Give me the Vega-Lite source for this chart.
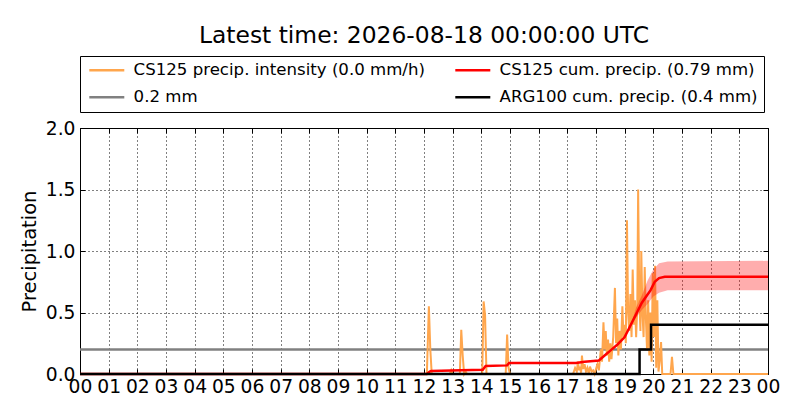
{
  "$schema": "https://vega.github.io/schema/vega-lite/v6.json",
  "width": 688,
  "height": 246,
  "autosize": {"type": "none"},
  "padding": {"left": 80, "top": 128, "right": 32, "bottom": 46},
  "background": "white",
  "title": {
    "text": "Latest time: 2026-08-18 00:00:00 UTC",
    "fontSize": 23.4,
    "font": "DejaVu Sans",
    "fontWeight": "normal",
    "color": "black",
    "offset": 7
  },
  "config": {
    "font": "DejaVu Sans",
    "view": {"stroke": "black", "strokeWidth": 1},
    "axis": {
      "labelFont": "DejaVu Sans",
      "labelFontSize": 18.7,
      "labelColor": "black",
      "tickColor": "black",
      "domainColor": "black",
      "gridColor": "black",
      "gridDash": [1, 3],
      "gridOpacity": 1,
      "gridWidth": 1,
      "titleFont": "DejaVu Sans",
      "titleFontSize": 19.5,
      "titleFontWeight": "normal",
      "titleColor": "black"
    },
    "legend": {
      "labelFont": "DejaVu Sans",
      "labelFontSize": 16.6,
      "labelColor": "black",
      "labelLimit": 400
    }
  },
  "datasets": {
    "lines": [
      {"t": 0, "v": 0.2, "s": "0.2 mm"},
      {"t": 24, "v": 0.2, "s": "0.2 mm"},

      {"t": 0, "v": 0, "s": "CS125 precip. intensity (0.0 mm/h)"},
      {"t": 12.1, "v": 0, "s": "CS125 precip. intensity (0.0 mm/h)"},
      {"t": 12.17, "v": 0.55, "s": "CS125 precip. intensity (0.0 mm/h)"},
      {"t": 12.22, "v": 0.2, "s": "CS125 precip. intensity (0.0 mm/h)"},
      {"t": 12.27, "v": 0, "s": "CS125 precip. intensity (0.0 mm/h)"},
      {"t": 12.9, "v": 0, "s": "CS125 precip. intensity (0.0 mm/h)"},
      {"t": 12.95, "v": 0.03, "s": "CS125 precip. intensity (0.0 mm/h)"},
      {"t": 13.0, "v": 0, "s": "CS125 precip. intensity (0.0 mm/h)"},
      {"t": 13.25, "v": 0, "s": "CS125 precip. intensity (0.0 mm/h)"},
      {"t": 13.3, "v": 0.36, "s": "CS125 precip. intensity (0.0 mm/h)"},
      {"t": 13.35, "v": 0.15, "s": "CS125 precip. intensity (0.0 mm/h)"},
      {"t": 13.4, "v": 0, "s": "CS125 precip. intensity (0.0 mm/h)"},
      {"t": 13.45, "v": 0.02, "s": "CS125 precip. intensity (0.0 mm/h)"},
      {"t": 13.5, "v": 0, "s": "CS125 precip. intensity (0.0 mm/h)"},
      {"t": 14.03, "v": 0, "s": "CS125 precip. intensity (0.0 mm/h)"},
      {"t": 14.08, "v": 0.59, "s": "CS125 precip. intensity (0.0 mm/h)"},
      {"t": 14.13, "v": 0.48, "s": "CS125 precip. intensity (0.0 mm/h)"},
      {"t": 14.18, "v": 0, "s": "CS125 precip. intensity (0.0 mm/h)"},
      {"t": 14.85, "v": 0, "s": "CS125 precip. intensity (0.0 mm/h)"},
      {"t": 14.9, "v": 0.32, "s": "CS125 precip. intensity (0.0 mm/h)"},
      {"t": 14.95, "v": 0.05, "s": "CS125 precip. intensity (0.0 mm/h)"},
      {"t": 15.0, "v": 0, "s": "CS125 precip. intensity (0.0 mm/h)"},
      {"t": 17.2, "v": 0, "s": "CS125 precip. intensity (0.0 mm/h)"},
      {"t": 17.27, "v": 0.05, "s": "CS125 precip. intensity (0.0 mm/h)"},
      {"t": 17.33, "v": 0.02, "s": "CS125 precip. intensity (0.0 mm/h)"},
      {"t": 17.37, "v": 0.1, "s": "CS125 precip. intensity (0.0 mm/h)"},
      {"t": 17.41, "v": 0.03, "s": "CS125 precip. intensity (0.0 mm/h)"},
      {"t": 17.44, "v": 0.06, "s": "CS125 precip. intensity (0.0 mm/h)"},
      {"t": 17.48, "v": 0.01, "s": "CS125 precip. intensity (0.0 mm/h)"},
      {"t": 17.51, "v": 0.15, "s": "CS125 precip. intensity (0.0 mm/h)"},
      {"t": 17.55, "v": 0.04, "s": "CS125 precip. intensity (0.0 mm/h)"},
      {"t": 17.6, "v": 0.08, "s": "CS125 precip. intensity (0.0 mm/h)"},
      {"t": 17.65, "v": 0.02, "s": "CS125 precip. intensity (0.0 mm/h)"},
      {"t": 17.7, "v": 0.05, "s": "CS125 precip. intensity (0.0 mm/h)"},
      {"t": 17.75, "v": 0.0, "s": "CS125 precip. intensity (0.0 mm/h)"},
      {"t": 17.79, "v": 0.06, "s": "CS125 precip. intensity (0.0 mm/h)"},
      {"t": 17.85, "v": 0.02, "s": "CS125 precip. intensity (0.0 mm/h)"},
      {"t": 17.9, "v": 0.03, "s": "CS125 precip. intensity (0.0 mm/h)"},
      {"t": 17.95, "v": 0.0, "s": "CS125 precip. intensity (0.0 mm/h)"},
      {"t": 18.0, "v": 0.04, "s": "CS125 precip. intensity (0.0 mm/h)"},
      {"t": 18.05, "v": 0.08, "s": "CS125 precip. intensity (0.0 mm/h)"},
      {"t": 18.1, "v": 0.03, "s": "CS125 precip. intensity (0.0 mm/h)"},
      {"t": 18.17, "v": 0.2, "s": "CS125 precip. intensity (0.0 mm/h)"},
      {"t": 18.21, "v": 0.1, "s": "CS125 precip. intensity (0.0 mm/h)"},
      {"t": 18.26, "v": 0.42, "s": "CS125 precip. intensity (0.0 mm/h)"},
      {"t": 18.3, "v": 0.2, "s": "CS125 precip. intensity (0.0 mm/h)"},
      {"t": 18.34, "v": 0.35, "s": "CS125 precip. intensity (0.0 mm/h)"},
      {"t": 18.38, "v": 0.15, "s": "CS125 precip. intensity (0.0 mm/h)"},
      {"t": 18.42, "v": 0.28, "s": "CS125 precip. intensity (0.0 mm/h)"},
      {"t": 18.46, "v": 0.1, "s": "CS125 precip. intensity (0.0 mm/h)"},
      {"t": 18.5, "v": 0.25, "s": "CS125 precip. intensity (0.0 mm/h)"},
      {"t": 18.54, "v": 0.12, "s": "CS125 precip. intensity (0.0 mm/h)"},
      {"t": 18.6, "v": 0.3, "s": "CS125 precip. intensity (0.0 mm/h)"},
      {"t": 18.66, "v": 0.7, "s": "CS125 precip. intensity (0.0 mm/h)"},
      {"t": 18.7, "v": 0.25, "s": "CS125 precip. intensity (0.0 mm/h)"},
      {"t": 18.74, "v": 0.45, "s": "CS125 precip. intensity (0.0 mm/h)"},
      {"t": 18.78, "v": 0.15, "s": "CS125 precip. intensity (0.0 mm/h)"},
      {"t": 18.82, "v": 0.35, "s": "CS125 precip. intensity (0.0 mm/h)"},
      {"t": 18.87, "v": 0.2, "s": "CS125 precip. intensity (0.0 mm/h)"},
      {"t": 18.92, "v": 0.55, "s": "CS125 precip. intensity (0.0 mm/h)"},
      {"t": 18.96, "v": 0.3, "s": "CS125 precip. intensity (0.0 mm/h)"},
      {"t": 19.0, "v": 0.4, "s": "CS125 precip. intensity (0.0 mm/h)"},
      {"t": 19.04, "v": 0.25, "s": "CS125 precip. intensity (0.0 mm/h)"},
      {"t": 19.08, "v": 1.25, "s": "CS125 precip. intensity (0.0 mm/h)"},
      {"t": 19.12, "v": 0.5, "s": "CS125 precip. intensity (0.0 mm/h)"},
      {"t": 19.16, "v": 0.35, "s": "CS125 precip. intensity (0.0 mm/h)"},
      {"t": 19.2, "v": 0.65, "s": "CS125 precip. intensity (0.0 mm/h)"},
      {"t": 19.24, "v": 0.3, "s": "CS125 precip. intensity (0.0 mm/h)"},
      {"t": 19.28, "v": 0.85, "s": "CS125 precip. intensity (0.0 mm/h)"},
      {"t": 19.32, "v": 0.4, "s": "CS125 precip. intensity (0.0 mm/h)"},
      {"t": 19.36, "v": 0.6, "s": "CS125 precip. intensity (0.0 mm/h)"},
      {"t": 19.4, "v": 0.3, "s": "CS125 precip. intensity (0.0 mm/h)"},
      {"t": 19.44, "v": 0.55, "s": "CS125 precip. intensity (0.0 mm/h)"},
      {"t": 19.47, "v": 1.5, "s": "CS125 precip. intensity (0.0 mm/h)"},
      {"t": 19.51, "v": 0.6, "s": "CS125 precip. intensity (0.0 mm/h)"},
      {"t": 19.55, "v": 0.35, "s": "CS125 precip. intensity (0.0 mm/h)"},
      {"t": 19.58, "v": 1.0, "s": "CS125 precip. intensity (0.0 mm/h)"},
      {"t": 19.62, "v": 0.5, "s": "CS125 precip. intensity (0.0 mm/h)"},
      {"t": 19.66, "v": 0.3, "s": "CS125 precip. intensity (0.0 mm/h)"},
      {"t": 19.7, "v": 0.87, "s": "CS125 precip. intensity (0.0 mm/h)"},
      {"t": 19.74, "v": 0.45, "s": "CS125 precip. intensity (0.0 mm/h)"},
      {"t": 19.78, "v": 0.2, "s": "CS125 precip. intensity (0.0 mm/h)"},
      {"t": 19.82, "v": 0.6, "s": "CS125 precip. intensity (0.0 mm/h)"},
      {"t": 19.86, "v": 0.15, "s": "CS125 precip. intensity (0.0 mm/h)"},
      {"t": 19.9, "v": 0.5, "s": "CS125 precip. intensity (0.0 mm/h)"},
      {"t": 19.94, "v": 0.1, "s": "CS125 precip. intensity (0.0 mm/h)"},
      {"t": 19.98, "v": 0.82, "s": "CS125 precip. intensity (0.0 mm/h)"},
      {"t": 20.02, "v": 0.3, "s": "CS125 precip. intensity (0.0 mm/h)"},
      {"t": 20.06, "v": 0.88, "s": "CS125 precip. intensity (0.0 mm/h)"},
      {"t": 20.1, "v": 0.05, "s": "CS125 precip. intensity (0.0 mm/h)"},
      {"t": 20.14, "v": 0.6, "s": "CS125 precip. intensity (0.0 mm/h)"},
      {"t": 20.18, "v": 0.02, "s": "CS125 precip. intensity (0.0 mm/h)"},
      {"t": 20.22, "v": 0.1, "s": "CS125 precip. intensity (0.0 mm/h)"},
      {"t": 20.27, "v": 0.26, "s": "CS125 precip. intensity (0.0 mm/h)"},
      {"t": 20.31, "v": 0.0, "s": "CS125 precip. intensity (0.0 mm/h)"},
      {"t": 20.6, "v": 0.0, "s": "CS125 precip. intensity (0.0 mm/h)"},
      {"t": 20.65, "v": 0.14, "s": "CS125 precip. intensity (0.0 mm/h)"},
      {"t": 20.7, "v": 0.0, "s": "CS125 precip. intensity (0.0 mm/h)"},
      {"t": 24, "v": 0.0, "s": "CS125 precip. intensity (0.0 mm/h)"},

      {"t": 0, "v": 0, "s": "CS125 cum. precip. (0.79 mm)"},
      {"t": 12.1, "v": 0, "s": "CS125 cum. precip. (0.79 mm)"},
      {"t": 12.2, "v": 0.02, "s": "CS125 cum. precip. (0.79 mm)"},
      {"t": 12.25, "v": 0.025, "s": "CS125 cum. precip. (0.79 mm)"},
      {"t": 13.3, "v": 0.03, "s": "CS125 cum. precip. (0.79 mm)"},
      {"t": 14.05, "v": 0.035, "s": "CS125 cum. precip. (0.79 mm)"},
      {"t": 14.15, "v": 0.065, "s": "CS125 cum. precip. (0.79 mm)"},
      {"t": 14.9, "v": 0.07, "s": "CS125 cum. precip. (0.79 mm)"},
      {"t": 14.97, "v": 0.09, "s": "CS125 cum. precip. (0.79 mm)"},
      {"t": 17.3, "v": 0.09, "s": "CS125 cum. precip. (0.79 mm)"},
      {"t": 17.6, "v": 0.1, "s": "CS125 cum. precip. (0.79 mm)"},
      {"t": 18.1, "v": 0.11, "s": "CS125 cum. precip. (0.79 mm)"},
      {"t": 18.3, "v": 0.15, "s": "CS125 cum. precip. (0.79 mm)"},
      {"t": 18.5, "v": 0.19, "s": "CS125 cum. precip. (0.79 mm)"},
      {"t": 18.75, "v": 0.24, "s": "CS125 cum. precip. (0.79 mm)"},
      {"t": 19.0, "v": 0.3, "s": "CS125 cum. precip. (0.79 mm)"},
      {"t": 19.15, "v": 0.37, "s": "CS125 cum. precip. (0.79 mm)"},
      {"t": 19.3, "v": 0.44, "s": "CS125 cum. precip. (0.79 mm)"},
      {"t": 19.45, "v": 0.51, "s": "CS125 cum. precip. (0.79 mm)"},
      {"t": 19.6, "v": 0.58, "s": "CS125 cum. precip. (0.79 mm)"},
      {"t": 19.75, "v": 0.63, "s": "CS125 cum. precip. (0.79 mm)"},
      {"t": 19.9, "v": 0.68, "s": "CS125 cum. precip. (0.79 mm)"},
      {"t": 20.05, "v": 0.75, "s": "CS125 cum. precip. (0.79 mm)"},
      {"t": 20.2, "v": 0.78, "s": "CS125 cum. precip. (0.79 mm)"},
      {"t": 20.4, "v": 0.79, "s": "CS125 cum. precip. (0.79 mm)"},
      {"t": 24, "v": 0.79, "s": "CS125 cum. precip. (0.79 mm)"},

      {"t": 0, "v": 0, "s": "ARG100 cum. precip. (0.4 mm)"},
      {"t": 19.52, "v": 0.2, "s": "ARG100 cum. precip. (0.4 mm)"},
      {"t": 19.92, "v": 0.4, "s": "ARG100 cum. precip. (0.4 mm)"},
      {"t": 24, "v": 0.4, "s": "ARG100 cum. precip. (0.4 mm)"}
    ],
    "band": [
      {"t": 19.25, "lo": 0.42, "hi": 0.42},
      {"t": 19.4, "lo": 0.46, "hi": 0.54},
      {"t": 19.6, "lo": 0.52, "hi": 0.64},
      {"t": 19.8, "lo": 0.57, "hi": 0.76},
      {"t": 20.0, "lo": 0.63, "hi": 0.85},
      {"t": 20.2, "lo": 0.66, "hi": 0.9},
      {"t": 20.5, "lo": 0.68, "hi": 0.915},
      {"t": 24, "lo": 0.68, "hi": 0.92}
    ]
  },
  "data": {"name": "lines"},
  "resolve": {"axis": {"x": "independent", "y": "independent"}},
  "layer": [
    {
      "transform": [{"filter": "datum.s == '0.2 mm'"}],
      "mark": {"type": "line", "strokeWidth": 2.5},
      "encoding": {
        "x": {
          "field": "t", "type": "quantitative",
          "scale": {"domain": [0, 24], "nice": false, "zero": false},
          "axis": {
            "title": null,
            "values": [0, 1, 2, 3, 4, 5, 6, 7, 8, 9, 10, 11, 12, 13, 14, 15, 16, 17, 18, 19, 20, 21, 22, 23, 24],
            "labelExpr": "datum.value == 24 ? '00' : (datum.value < 10 ? '0' + datum.value : '' + datum.value)",
            "tickSize": -5,
            "labelPadding": 8,
            "labelFlush": false,
            "labelOverlap": false,
            "grid": true
          }
        },
        "y": {
          "field": "v", "type": "quantitative",
          "scale": {"domain": [0, 2], "nice": false},
          "axis": {
            "title": "Precipitation",
            "values": [0, 0.5, 1, 1.5, 2],
            "format": ".1f",
            "tickSize": -5,
            "labelPadding": 10,
            "titlePadding": 6,
            "labelFlush": false,
            "labelOverlap": false,
            "grid": true
          }
        },
        "color": {
          "field": "s", "type": "nominal",
          "scale": {
            "domain": ["CS125 precip. intensity (0.0 mm/h)", "0.2 mm", "CS125 cum. precip. (0.79 mm)", "ARG100 cum. precip. (0.4 mm)"],
            "range": ["#ffa64d", "#808080", "#ff0000", "#000000"]
          },
          "legend": {
            "title": null,
            "orient": "none",
            "legendX": 0,
            "legendY": -72,
            "columns": 2,
            "columnPadding": 25,
            "rowPadding": 10,
            "padding": 6,
            "symbolType": "M-1,0H6",
            "symbolSize": 100,
            "symbolStrokeWidth": 2.5,
            "labelOffset": 31,
            "strokeColor": "black",
            "fillColor": "white"
          }
        }
      }
    },
    {
      "transform": [{"filter": "datum.s == 'CS125 precip. intensity (0.0 mm/h)'"}],
      "mark": {"type": "line", "strokeWidth": 2},
      "encoding": {
        "x": {
          "field": "t", "type": "quantitative",
          "axis": {"orient": "top", "labels": false, "title": null, "tickSize": -5, "grid": false, "domain": false,
                   "values": [0, 1, 2, 3, 4, 5, 6, 7, 8, 9, 10, 11, 12, 13, 14, 15, 16, 17, 18, 19, 20, 21, 22, 23, 24]}
        },
        "y": {
          "field": "v", "type": "quantitative",
          "axis": {"orient": "right", "labels": false, "title": null, "tickSize": -5, "grid": false, "domain": false,
                   "values": [0, 0.5, 1, 1.5, 2]}
        },
        "color": {"field": "s", "type": "nominal"}
      }
    },
    {
      "data": {"name": "band"},
      "mark": {"type": "area", "color": "#ff0000", "opacity": 0.32},
      "encoding": {
        "x": {"field": "t", "type": "quantitative", "axis": null},
        "y": {"field": "lo", "type": "quantitative", "axis": null},
        "y2": {"field": "hi"}
      }
    },
    {
      "transform": [{"filter": "datum.s == 'CS125 cum. precip. (0.79 mm)'"}],
      "mark": {"type": "line", "strokeWidth": 2.5},
      "encoding": {
        "x": {"field": "t", "type": "quantitative", "axis": null},
        "y": {"field": "v", "type": "quantitative", "axis": null},
        "color": {"field": "s", "type": "nominal"}
      }
    },
    {
      "transform": [{"filter": "datum.s == 'ARG100 cum. precip. (0.4 mm)'"}],
      "mark": {"type": "line", "strokeWidth": 2.5, "interpolate": "step-after"},
      "encoding": {
        "x": {"field": "t", "type": "quantitative", "axis": null},
        "y": {"field": "v", "type": "quantitative", "axis": null},
        "color": {"field": "s", "type": "nominal"}
      }
    }
  ]
}
